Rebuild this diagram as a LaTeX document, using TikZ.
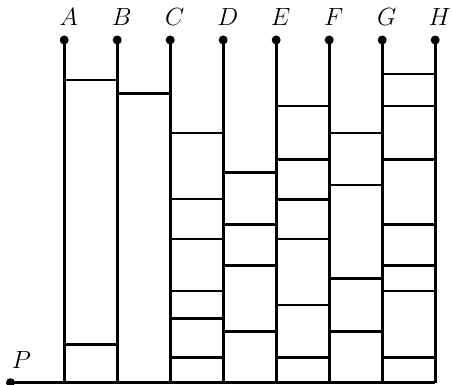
\documentclass[tikz,border=0pt]{standalone}
\usetikzlibrary{calc}
\begin{document}
\begin{tikzpicture}[x=1pt,y=1pt,
  pole/.style={line width=2.9pt},
  rung/.style={line width=2.8pt},
  dotnode/.style={circle,fill=black,inner sep=0pt,minimum size=9pt},
  lbl/.style={font=\fontsize{26}{30}\selectfont,inner sep=0pt,anchor=base}]
\useasboundingbox (0,0) rectangle (452,385);
% top dots
\foreach \n [count=\i from 0] in {A,B,C,D,E,F,G,H} {
  \node[dotnode] (\n) at ({64.2+53*\i},345) {};
  \coordinate (\n b) at ({64.2+53*\i},2.3);
  \node[lbl] (\n l) at ($(\n)+(4.5,14.5)$) {$\n$};
}
\node[dotnode] (P) at (10.5,2.3) {};
\node[lbl] (Pl) at (21.5,16.5) {$P$};
% poles
\foreach \n in {A,B,C,D,E,F,G,H} \draw[pole] (\n.center) -- (\n b);
% base line
\draw[line width=2.7pt] (P.center) -- (Hb);
% rungs
\foreach \l/\r/\ys in {A/B/{305,40.7}, B/C/{291.7},
  C/D/{252,186,146,94,66.7,27.3},
  D/E/{212.7,160.3,119.7,53.3},
  E/F/{279,225.7,185.7,146,80,27.3},
  F/G/{252,200,106.7,53.3},
  G/H/{311,279,225.7,160.3,119.7,94,27.3}} {
  \foreach \y in \ys {
    \draw[rung] (\l |- 0,\y) -- (\r |- 0,\y);
  }
}
\end{tikzpicture}
\end{document}
